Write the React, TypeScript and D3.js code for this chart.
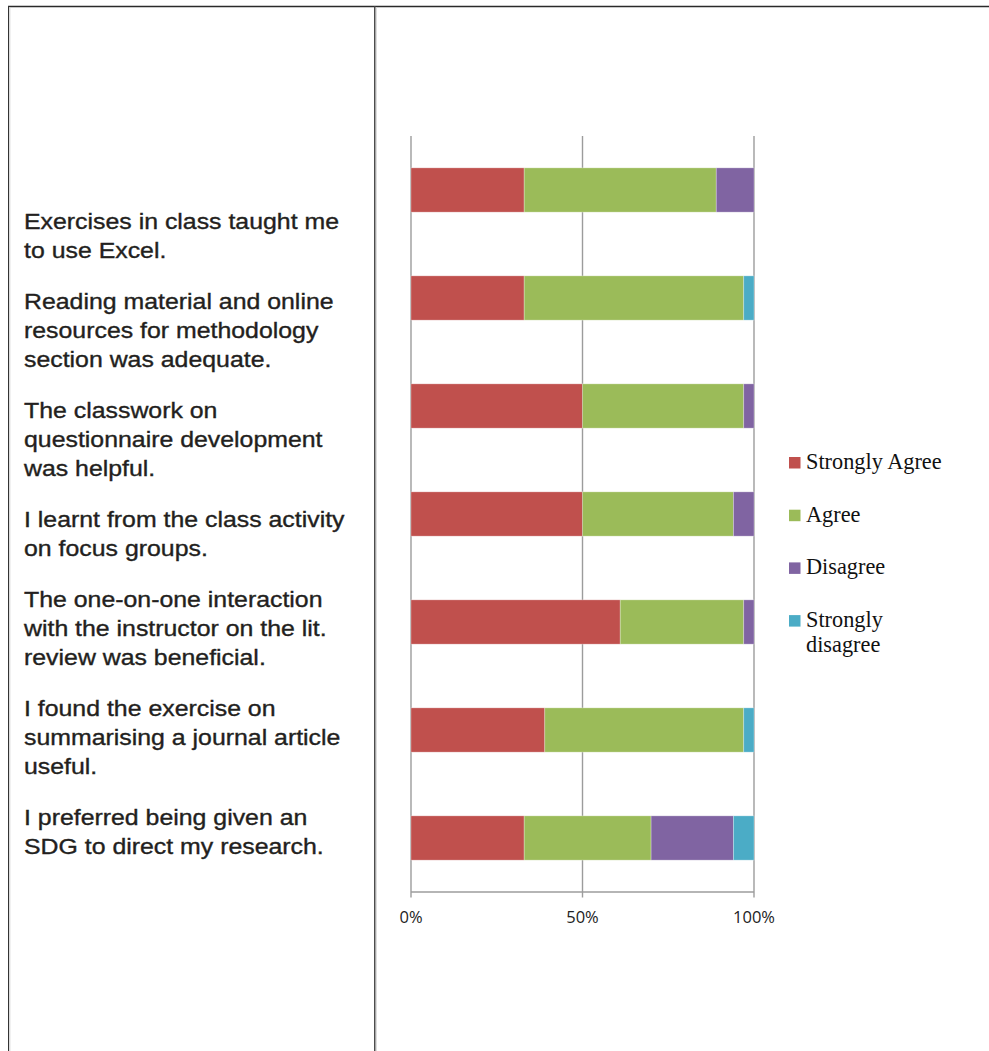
import React from "react";
import * as d3 from "d3";

const categories = [
  "Exercises in class taught me to use Excel.",
  "Reading material and online resources for methodology section was adequate.",
  "The classwork on questionnaire development was helpful.",
  "I learnt from the class activity on focus groups.",
  "The one-on-one interaction with the instructor on the lit. review was beneficial.",
  "I found the exercise on summarising a journal article useful.",
  "I preferred being given an SDG to direct my research.",
];

const labelLines: string[][] = [
  ["Exercises in class taught me", "to use Excel."],
  ["Reading material and online", "resources for methodology", "section was adequate."],
  ["The classwork on", "questionnaire development", "was helpful."],
  ["I learnt from the class activity", "on focus groups."],
  ["The one-on-one interaction", "with the instructor on the lit.", "review was beneficial."],
  ["I found the exercise on", "summarising a journal article", "useful."],
  ["I preferred being given an", "SDG to direct my research."],
];

const seriesNames = ["Strongly Agree", "Agree", "Disagree", "Strongly disagree"];
const stronglyAgree = [33, 33, 50, 50, 61, 39, 33];
const agree = [56, 64, 47, 44, 36, 58, 37];
const disagree = [11, 0, 3, 6, 3, 0, 24];
const stronglyDisagree = [0, 3, 0, 0, 0, 3, 6];
const seriesColors = ["#C0504D", "#9BBB59", "#8064A2", "#4BACC6"];
const xTicks = [0, 50, 100];

const W = 989;
const H = 1051;

export default function App() {
  const seriesValues = [stronglyAgree, agree, disagree, stronglyDisagree];
  const rows = categories.map((c, i) => {
    const r: any = { category: c };
    seriesNames.forEach((s, k) => (r[s] = seriesValues[k][i]));
    return r;
  });
  const stacked = d3.stack<any>().keys(seriesNames)(rows);

  const x = d3.scaleLinear().domain([0, 100]).range([411, 754]);
  const y = d3
    .scaleBand<string>()
    .domain(categories)
    .range([136, 892])
    .paddingInner(0.59)
    .paddingOuter(0.295);
  const color = d3.scaleOrdinal<string, string>().domain(seriesNames).range(seriesColors);

  // left text layout
  const lineStep = 29;
  const paraGap = 22;
  let base = 229;
  const textLines: { text: string; y: number }[] = [];
  labelLines.forEach((lines) => {
    lines.forEach((t) => {
      textLines.push({ text: t, y: base });
      base += lineStep;
    });
    base += paraGap;
  });

  const legendRowStep = 52.7;
  const legendTop = 469;

  return (
    <svg
      width={W}
      height={H}
      style={{ position: "absolute", left: 0, top: 0, background: "#fff" }}
    >
      <rect x={0} y={0} width={W} height={H} fill="#fff" />
      {/* table borders */}
      <line x1={8} y1={6.5} x2={W} y2={6.5} stroke="#2a2a2a" strokeWidth={1.5} />
      <line x1={8.5} y1={6} x2={8.5} y2={H} stroke="#333" strokeWidth={1} />
      <line x1={9.8} y1={7} x2={9.8} y2={H} stroke="#cfcfcf" strokeWidth={1} />
      <line x1={374.8} y1={6} x2={374.8} y2={H} stroke="#444" strokeWidth={1.5} />
      <line x1={376.3} y1={7} x2={376.3} y2={H} stroke="#d5d5d5" strokeWidth={1} />

      {/* left statements */}
      <g
        transform="translate(24,0) scale(1.168,1)"
        fontFamily="'Liberation Sans', Arial, sans-serif"
        fontSize={21.3}
        fill="#231f20"
        stroke="#231f20"
        strokeWidth={0.35}
      >
        {textLines.map((l, i) => (
          <text key={i} x={0} y={l.y}>
            {l.text}
          </text>
        ))}
      </g>

      {/* gridlines */}
      {xTicks.map((t) => (
        <line
          key={"g" + t}
          x1={x(t)}
          x2={x(t)}
          y1={136}
          y2={897.5}
          stroke="#9c9c9c"
          strokeWidth={1.4}
        />
      ))}
      <line x1={x(0)} x2={x(100)} y1={892} y2={892} stroke="#9c9c9c" strokeWidth={1.4} />

      {/* bars */}
      {stacked.map((s) => (
        <g key={s.key} fill={color(s.key)}>
          {s.map((d, i) =>
            d[1] - d[0] > 0 ? (
              <rect
                key={i}
                x={x(d[0])}
                width={x(d[1]) - x(d[0])}
                y={y(categories[i])}
                height={y.bandwidth()}
                stroke="#ffffff"
                strokeOpacity={0.35}
                strokeWidth={0.8}
              />
            ) : null
          )}
        </g>
      ))}

      {/* x tick labels */}
      {xTicks.map((t) => (
        <text
          key={"t" + t}
          x={x(t)}
          y={922.5}
          textAnchor="middle"
          fontFamily="'Open Sans', 'Liberation Sans', sans-serif"
          fontSize={16.5}
          fill="#222"
        >
          {t + "%"}
        </text>
      ))}

      {/* legend */}
      <g fontFamily="'Liberation Serif', 'Times New Roman', serif" fontSize={22.3} fill="#111">
        {seriesNames.map((s, i) => {
          const by = legendTop + i * legendRowStep;
          const words = s === "Strongly disagree" ? ["Strongly", "disagree"] : [s];
          return (
            <g key={s}>
              <rect x={789} y={by - 12} width={11.5} height={11.5} fill={color(s)} />
              {words.map((w, k) => (
                <text key={k} x={806} y={by + k * 25}>
                  {w}
                </text>
              ))}
            </g>
          );
        })}
      </g>
    </svg>
  );
}
